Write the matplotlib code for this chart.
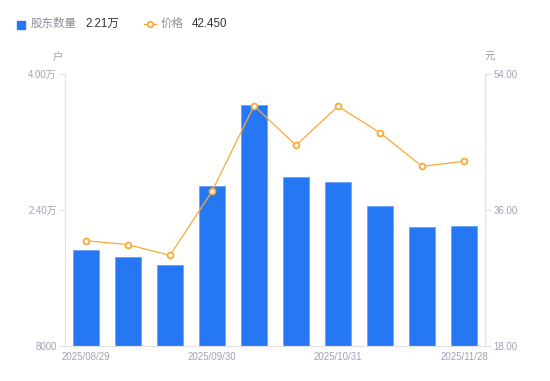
#Importing all the necessary libraries
import matplotlib
matplotlib.use("Agg")
import matplotlib.pyplot as plt
from matplotlib.patches import Rectangle
from matplotlib.lines import Line2D

#Fonts: latin first, CJK as fallback
plt.rcParams['font.family'] = ['Liberation Sans', 'Noto Sans CJK SC', 'DejaVu Sans']

#Data
dates = ['2025/08/29', '', '', '2025/09/30', '', '', '2025/10/31', '', '', '2025/11/28']
holders = [19260, 18470, 17530, 26790, 36320, 27920, 27260, 24470, 22000, 22100]
price = [31.94, 31.41, 30.00, 38.47, 49.80, 44.56, 49.72, 46.23, 41.78, 42.45]
left_ticks = [8000, 24000, 40000]
left_labels = ['8000', '2.40万', '4.00万']
right_ticks = [18, 36, 54]
right_labels = ['18.00', '36.00', '54.00']

#Colours
blue = '#2677F4'
orange = '#F7AB36'
grey = '#A0A2B2'
axis_grey = '#E3E3E6'

fig = plt.figure(figsize=(5.5, 3.81), dpi=100)
ax = fig.add_axes([65/550, 1-346/381, 420/550, 272/381])

#Bars for holder count
x = list(range(len(holders)))
ax.bar(x, holders, width=0.6, color=blue, edgecolor='#6FA3F7', linewidth=0.6, zorder=2)
ax.set_xlim(-0.5, len(holders)-0.5)
ax.set_ylim(8000, 40000)
ax.set_yticks(left_ticks)
ax.set_yticklabels(left_labels)
ax.set_xticks([i for i, d in enumerate(dates) if d])
ax.set_xticklabels([d for d in dates if d])

#Second axis for price
ax2 = ax.twinx()
ax2.plot(x, price, color=orange, linewidth=0.9, marker='o', markersize=4.2,
         markerfacecolor='white', markeredgecolor=orange, markeredgewidth=1.3, zorder=3)
ax2.set_ylim(18, 54)
ax2.set_yticks(right_ticks)
ax2.set_yticklabels(right_labels)

#Styling of spines and ticks
for a in (ax, ax2):
    for s in ['top']:
        a.spines[s].set_visible(False)
    a.spines['left'].set_color(axis_grey)
    a.spines['right'].set_color(axis_grey)
    a.spines['bottom'].set_color(axis_grey)
    a.tick_params(axis='y', length=4, color=axis_grey, labelcolor=grey, labelsize=7, pad=2)
    a.tick_params(axis='x', length=0, labelcolor=grey, labelsize=7, pad=4)

#Unit labels
fig.text(58/550, 1-57/381, '户', color=grey, fontsize=7.5, ha='center', va='center')
fig.text(490/550, 1-57/381, '元', color=grey, fontsize=7.5, ha='center', va='center')

#Legend drawn by hand
fig.patches.append(Rectangle((17/550, 1-28.5/381), 8/550, 8/381, transform=fig.transFigure,
                             color=blue, figure=fig))
fig.text(31/550, 1-24/381, '股东数量', color='#8E909C', fontsize=8.3, va='center')
fig.text(85/550, 1-24/381, '2.21万', color='#333333', fontsize=8.3, va='center')
fig.lines.append(Line2D([144/550, 156/550], [1-24/381, 1-24/381], transform=fig.transFigure,
                        color=orange, linewidth=1, marker='o', markevery=[0], markersize=0,
                        figure=fig))
fig.lines.append(Line2D([150/550], [1-24/381], transform=fig.transFigure, color=orange,
                        marker='o', markersize=4, markerfacecolor='white',
                        markeredgewidth=1.3, figure=fig))
fig.text(161/550, 1-24/381, '价格', color='#8E909C', fontsize=8.3, va='center')
fig.text(192/550, 1-24/381, '42.450', color='#333333', fontsize=8.3, va='center')

plt.savefig('out.png', dpi=100)
